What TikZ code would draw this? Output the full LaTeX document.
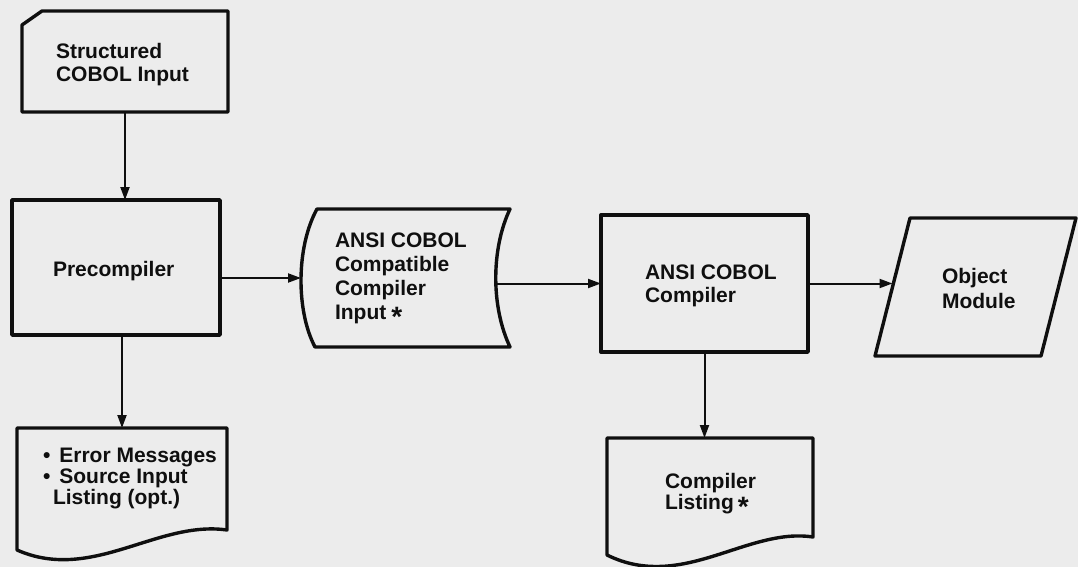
\documentclass[tikz,border=0pt]{standalone}
\usepackage{fontspec}
\setmainfont{Liberation Sans}
\usetikzlibrary{arrows.meta,calc}
\definecolor{paper}{RGB}{236,236,236}
\definecolor{ink}{RGB}{15,15,15}
\newcommand{\starmark}{{\fontsize{28}{0}\selectfont\raisebox{-7pt}{*}}}
\begin{document}
\begin{tikzpicture}[x=1pt,y=-1pt,
  outline/.style={draw=ink,line width=3.4pt,line join=round},
  frame/.style={inner sep=0pt,outer sep=0pt,draw=none,anchor=north west},
  arr/.style={draw=ink,line width=2pt,-{Triangle[length=13pt,width=9pt]}},
  lbl/.style={anchor=north west,inner sep=0pt,outer sep=0pt,align=left,text=ink},
  fs/.style={font=\bfseries\fontsize{21}{#1}\selectfont},
]
\fill[paper] (0,0) rectangle (1078,567);
\useasboundingbox (0,0) rectangle (1078,567);

% invisible frames giving each shape its extent
\node[frame,minimum width=206pt,minimum height=101pt] (card) at (22,11) {};
\node[frame,minimum width=208pt,minimum height=135pt] (pre) at (12,200) {};
\node[frame,minimum width=210pt,minimum height=102pt] (err) at (17,428) {};
\node[frame,minimum width=209pt,minimum height=138pt] (cci) at (301,209) {};
\node[frame,minimum width=207pt,minimum height=137pt] (comp) at (601,215) {};
\node[frame,minimum width=201pt,minimum height=138pt] (obj) at (875,218) {};
\node[frame,minimum width=206pt,minimum height=99pt] (lst) at (607,438) {};
\coordinate (cciout) at ($(cci.east)+(-14,0)$);
\coordinate (objin) at ($(obj.west)+(17.5,0)$);

% outlines
\draw[outline] ($(card.north west)+(0,14)$) -- ($(card.north west)+(20,0)$) -- (card.north east) -- (card.south east) -- (card.south west) -- cycle;
\draw[outline] (pre.north west) rectangle (pre.south east);
\draw[outline] ($(err.south west)+(0,20)$) -- (err.north west) -- (err.north east) -- (err.south east)
  .. controls ($(err.south east)+(-70,-10)$) and ($(err.south west)+(75,53)$) .. cycle;
\draw[outline] ($(cci.north west)+(16,0)$) -- (cci.north east)
  .. controls ($(cci.north east)+(-19,40)$) and ($(cci.south east)+(-19,-40)$) .. (cci.south east)
  -- ($(cci.south west)+(14,0)$)
  .. controls ($(cci.south west)+(-5,-36)$) and ($(cci.north west)+(-5,38)$) .. cycle;
\draw[outline] (comp.north west) rectangle (comp.south east);
\draw[outline] (obj.south west) -- ($(obj.north west)+(35,0)$) -- (obj.north east) -- ($(obj.south east)+(-35,0)$) -- cycle;
\draw[outline] ($(lst.south west)+(0,18)$) -- (lst.north west) -- (lst.north east) -- (lst.south east)
  .. controls ($(lst.south east)+(-66,-10)$) and ($(lst.south west)+(75,55)$) .. cycle;

% texts
\node[lbl,fs=23] (t-card) at (56,43) {Structured\\COBOL Input};
\node[lbl,fs=23] (t-pre) at (53,261) {Precompiler};
\node[lbl,fs=21] (t-err) at (43,448) {\textbullet\hspace{9pt}Error Messages\\\textbullet\hspace{9pt}Source Input\\\hspace*{10pt}Listing (opt.)};
\node[lbl,fs=24] (t-cci) at (335,233) {ANSI COBOL\\Compatible\\Compiler\\Input\hspace{5pt}\starmark};
\node[lbl,fs=23] (t-comp) at (645,265) {ANSI COBOL\\Compiler};
\node[lbl,fs=25] (t-obj) at (942,268) {Object\\Module};
\node[lbl,fs=21] (t-lst) at (665,473) {Compiler\\Listing\hspace{4pt}\starmark};

% connectors
\draw[arr] (card.south) -- (card.south |- pre.north);
\draw[arr] (pre.east |- cci.west) -- (cci.west);
\draw[arr] (err.north |- pre.south) -- (err.north);
\draw[arr] (cciout |- comp.west) -- (comp.west);
\draw[arr] (comp.east) -- (comp.east -| objin);
\draw[arr] (comp.south) -- (comp.south |- lst.north);
\end{tikzpicture}
\end{document}
